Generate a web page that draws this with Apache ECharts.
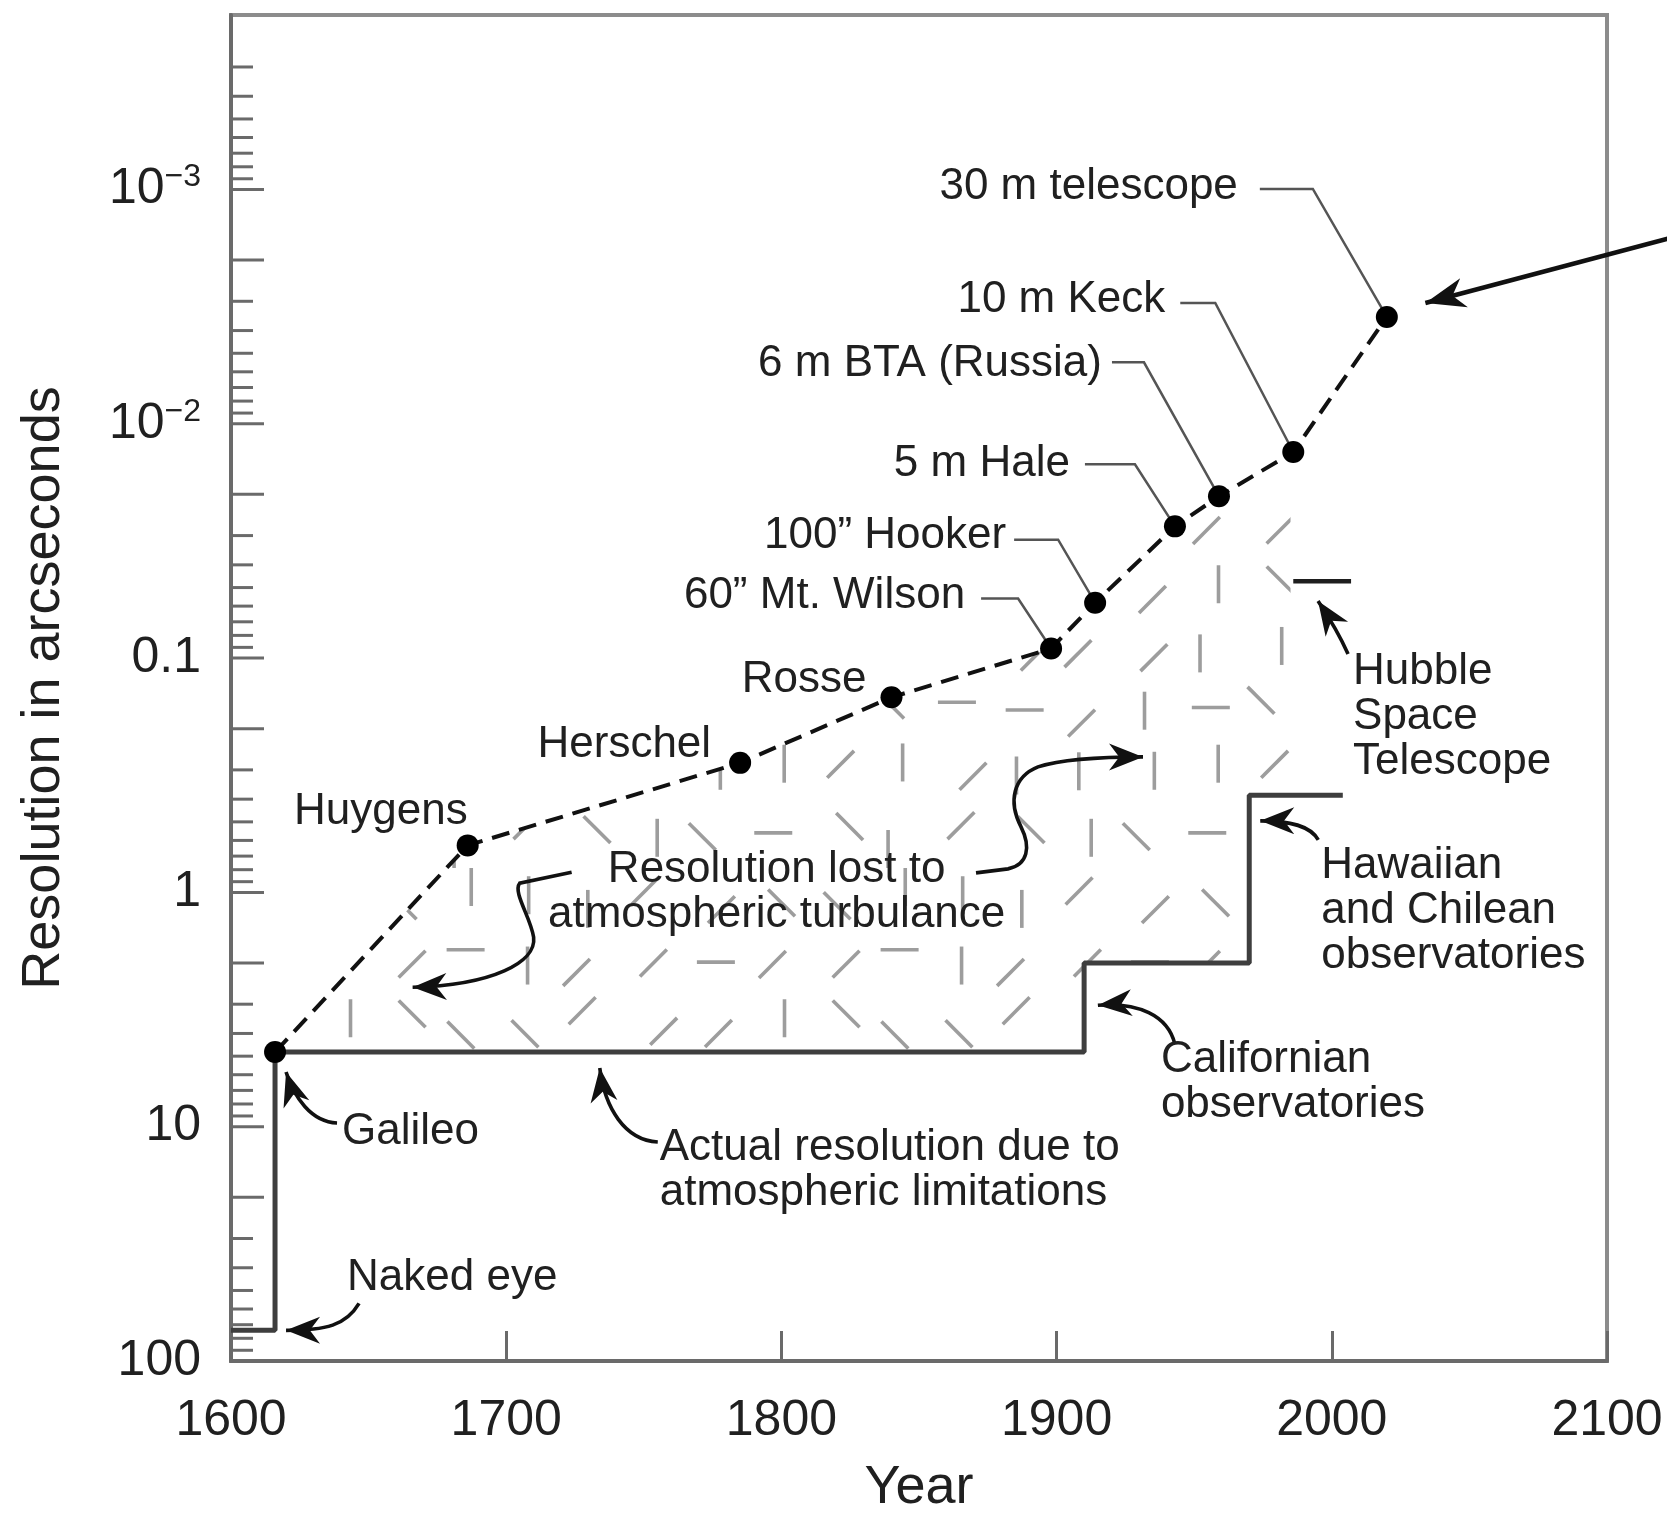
<!DOCTYPE html>
<html>
<head>
<meta charset="utf-8">
<title>Telescope resolution through history</title>
<script src="https://cdn.jsdelivr.net/npm/echarts@6.0.0/dist/echarts.min.js"></script>
<style>
  html, body { margin: 0; padding: 0; background: #ffffff; }
  #chart { width: 1667px; height: 1527px; }
</style>
</head>
<body>
<div id="chart"></div>
<script>
// ---- Data -------------------------------------------------------------
// Diffraction-limited resolution of landmark telescopes (arcseconds)
const telescopes = ['Galileo', 'Huygens', 'Herschel', 'Rosse', '60\u201D Mt. Wilson', '100\u201D Hooker',
                    '5 m Hale', '6 m BTA (Russia)', '10 m Keck', '30 m telescope'];
const telescopeYears = [1616, 1686, 1785, 1840, 1898, 1914, 1943, 1959, 1986, 2020];
const telescopeResolution = [4.8, 0.63, 0.28, 0.147, 0.091, 0.058, 0.0274, 0.0204, 0.0132, 0.0035];

// Seeing-limited resolution actually reached from the ground (drawn as steps)
const seeingYears = [1600, 1616, 1910, 1970, 2004];
const seeingResolution = [74, 4.8, 2.0, 0.385, 0.385];

// Hubble Space Telescope
const hubbleYears = [1986, 2007];
const hubbleResolution = [0.047, 0.047];

// Right edge of the shaded "lost to turbulence" region
const turbulenceEndYear = 1985;

// Axis ticks and labels
const yearTicks = [1600, 1700, 1800, 1900, 2000, 2100];
const resolutionDecades = [1e-3, 1e-2, 0.1, 1, 10, 100];
const resolutionDecadeLabels = ['10^-3', '10^-2', '0.1', '1', '10', '100'];
const minorTickMultipliers = [1, 2, 3, 4, 5, 6, 7, 8, 9];

// ---- Styling / layout ----------------------------------------------------
const FONT = '"Liberation Sans", Arial, Helvetica, sans-serif';
const TEXT = '#202020';
const AXIS = '#6a6a6a';
const yMin = 1.8e-4, yMax = 100;
const xMin = yearTicks[0], xMax = yearTicks[yearTicks.length - 1];

// Label placement around each telescope dot (pixel offsets from the dot)
const labelLayout = {
  'Huygens':            { text: [0, -34] },
  'Herschel':           { text: [-29, -18] },
  'Rosse':              { text: [-25, -17] },
  '60\u201D Mt. Wilson':{ text: [-86, -53],   elbow: [-33, -50],  lead: [-70, -50] },
  '100\u201D Hooker':   { text: [-89, -67],   elbow: [-37, -63],  lead: [-81, -63] },
  '5 m Hale':           { text: [-105, -62],  elbow: [-40, -62],  lead: [-90, -62] },
  '6 m BTA (Russia)':   { text: [-117, -132], elbow: [-75, -134], lead: [-107, -134] },
  '10 m Keck':          { text: [-128, -152], elbow: [-78, -149], lead: [-113, -149] },
  '30 m telescope':     { text: [-149, -130], elbow: [-74, -128], lead: [-127, -128] }
};

// Callouts: arrow tip in data space, curve and text as pixel offsets from the tip
const notes = [
  { tip: [1620, 5.84], path: 'M51 51 C25 50 8 25 0 0', label: 'Galileo', at: [56, 60], align: 'left' },
  { tip: [1620, 74], path: 'M73 -27 C60 -5 40 0 0 0', label: 'Naked eye', at: [61, -53], align: 'left' },
  { tip: [1734, 5.62], path: 'M58 74 C25 72 5 40 0 0', label: 'Actual resolution due to\natmospheric limitations', at: [60, 80], align: 'left' },
  { tip: [1915, 3.03], path: 'M77 39 C70 10 40 -3 0 0', label: 'Californian\nobservatories', at: [63, 55], align: 'left' },
  { tip: [1974, 0.495], path: 'M58 19 C50 5 30 0 0 0', label: 'Hawaiian\nand Chilean\nobservatories', at: [61, 45], align: 'left' },
  { tip: [1995, 0.057], path: 'M30 53 C22 35 10 15 0 0', label: 'Hubble\nSpace\nTelescope', at: [35, 71], align: 'left' },
  { tip: [1666, 2.54], path: 'M159 -115 L107 -104 C100 -95 118 -70 121 -50 C124 -25 80 -2 0 0',
    label: 'Resolution lost to\natmospheric turbulance', at: [364, -117], align: 'center' },
  { tip: [1931.4, 0.264], path: 'M-167 116 L-135 112 C-115 108 -112 90 -122 70 C-135 45 -130 20 -105 10 C-80 2 -40 0 0 0' },
  { tip: [2034, 0.00305], path: 'M260 -69 L0 0', width: 4.5, head: 40, headW: 15 }
];

// ---- Derived geometry ----------------------------------------------------
const telescopePoints = telescopeYears.map((y, i) => [y, telescopeResolution[i]]);
const seeingPoints = seeingYears.map((y, i) => [y, seeingResolution[i]]);
const hubblePoints = hubbleYears.map((y, i) => [y, hubbleResolution[i]]);

// Stepped outline of the seeing limit (horizontal first, then vertical)
function seeingStepOutline() {
  const pts = [];
  for (let i = 0; i < seeingPoints.length - 1; i++) {
    pts.push(seeingPoints[i], [seeingPoints[i + 1][0], seeingPoints[i][1]]);
  }
  pts.push(seeingPoints[seeingPoints.length - 1]);
  return pts;
}

// Region between the telescope track and the seeing limit
function turbulenceRegion() {
  const start = telescopeYears[0];
  const upper = telescopePoints.filter(p => p[0] < turbulenceEndYear);
  upper.push([turbulenceEndYear, upper[upper.length - 1][1]]);
  const lower = [];
  seeingStepOutline().forEach(p => {
    if (p[0] >= start && p[0] <= turbulenceEndYear) lower.push(p);
  });
  const last = lower[lower.length - 1];
  lower.push([turbulenceEndYear, last[1]]);
  const trimmed = lower.filter(p => !(p[0] === start && p[1] > telescopeResolution[0]));
  return upper.concat(trimmed.reverse());
}
const regionPoints = turbulenceRegion();

// Log-axis tick marks: decades and the 2x marks are drawn longer
const yTickMarks = [];
[1e-4, 1e-3, 1e-2, 0.1, 1, 10].forEach(d => {
  minorTickMultipliers.forEach(k => {
    const v = k * d;
    if (v >= yMin * 1.3 && v <= yMax * 1.0001) yTickMarks.push([v, k <= 2 ? 1 : 0]);
  });
});
yTickMarks.push([yMax, 1]);

// Scattered short strokes used as the fill texture of the turbulence region.
// Positions and orientations come from a fixed hash so the texture is stable.
function makeHatchTile() {
  const S = 62, N = 7, L = 38;
  const c = document.createElement('canvas');
  c.width = c.height = S * N;
  const g = c.getContext('2d');
  g.strokeStyle = '#9d9d9d';
  g.lineWidth = 3.6;
  g.lineCap = 'butt';
  const h = n => { const s = Math.sin(n * 12.9898 + 78.233) * 43758.5453; return s - Math.floor(s); };
  const angles = [Math.PI / 2, Math.PI / 2, Math.PI / 4, -Math.PI / 4, Math.PI / 4, -Math.PI / 4, 0];
  for (let r = 0; r < N; r++) {
    for (let q = 0; q < N; q++) {
      const i = r * N + q;
      const cx = q * S + S / 2 + (h(i + 1) - 0.5) * 26;
      const cy = r * S + S / 2 + (h(i + 101) - 0.5) * 26;
      const a = angles[Math.floor(h(i + 211) * angles.length)];
      const dx = Math.cos(a) * L / 2, dy = Math.sin(a) * L / 2;
      g.beginPath();
      g.moveTo(cx - dx, cy - dy);
      g.lineTo(cx + dx, cy + dy);
      g.stroke();
    }
  }
  return c;
}
const hatchTile = makeHatchTile();

// ---- Render helpers ------------------------------------------------------
function renderRegion(params, api) {
  return {
    type: 'polygon',
    shape: { points: regionPoints.map(p => api.coord(p)) },
    style: { fill: { image: hatchTile, repeat: 'repeat' }, stroke: null },
    silent: true
  };
}

function renderYTicks(params, api) {
  const p = api.coord([xMin, api.value(0)]);
  const len = api.value(1) ? 33 : 22;
  return {
    type: 'line',
    shape: { x1: p[0], y1: p[1], x2: p[0] + len, y2: p[1] },
    style: { stroke: AXIS, lineWidth: 3 },
    silent: true
  };
}

function renderTelescopeLabel(params, api) {
  const i = api.value(2);
  const name = telescopes[i];
  const lay = labelLayout[name];
  const p = api.coord([api.value(0), api.value(1)]);
  const children = [];
  if (lay.elbow) {
    children.push({
      type: 'polyline',
      shape: { points: [lay.lead, lay.elbow, [0, 0]] },
      style: { stroke: '#555555', lineWidth: 2.5, fill: null }
    });
  }
  children.push({
    type: 'text',
    x: lay.text[0], y: lay.text[1],
    style: { text: name, font: '44px ' + FONT, fill: TEXT, align: 'right', verticalAlign: 'middle' }
  });
  return { type: 'group', x: p[0], y: p[1], children: children, silent: true };
}

function renderNote(params, api) {
  const n = notes[params.dataIndex];
  const tip = api.coord(n.tip);
  const nums = n.path.match(/-?\d+(\.\d+)?/g).map(Number);
  const px = nums[nums.length - 4], py = nums[nums.length - 3];
  const d = Math.hypot(px, py);
  const ux = -px / d, uy = -py / d;           // unit vector pointing into the tip
  const L = n.head || 34, W = n.headW || 13.5;
  const nx = -uy, ny = ux;
  const head = [
    [0, 0],
    [-ux * L + nx * W, -uy * L + ny * W],
    [-ux * L * 0.7, -uy * L * 0.7],
    [-ux * L - nx * W, -uy * L - ny * W]
  ];
  const children = [
    { type: 'path', shape: { pathData: n.path }, style: { stroke: '#111111', lineWidth: n.width || 3.6, fill: null } },
    { type: 'polygon', shape: { points: head }, style: { fill: '#111111', stroke: null } }
  ];
  if (n.label) {
    const lh = 45;
    children.push({
      type: 'text',
      x: n.at[0], y: n.at[1] - lh / 2,
      style: { text: n.label, font: '44px ' + FONT, fill: TEXT, align: n.align,
               verticalAlign: 'top', lineHeight: lh }
    });
  }
  return { type: 'group', x: tip[0], y: tip[1], children: children, silent: true };
}

function yLabel(v) {
  const idx = resolutionDecades.findIndex(d => Math.abs(Math.log10(v) - Math.log10(d)) < 1e-6);
  if (idx < 0) return '';
  const t = resolutionDecadeLabels[idx];
  if (t.indexOf('^') >= 0) {
    const parts = t.split('^');
    return '{b|' + parts[0] + '}{s|' + parts[1].replace('-', '\u2212') + '}';
  }
  return '{b|' + t + '}';
}

// ---- Chart ---------------------------------------------------------------
const chart = echarts.init(document.getElementById('chart'), null, { renderer: 'canvas', width: 1667, height: 1527 });

chart.setOption({
  animation: false,
  backgroundColor: '#ffffff',
  grid: {
    left: 231, right: 60, top: 15, bottom: 166,
    show: true, borderColor: '#8c8c8c', borderWidth: 4,
    containLabel: false, outerBoundsMode: 'none'
  },
  xAxis: {
    type: 'value', min: xMin, max: xMax, interval: 100,
    axisLine: { show: true, lineStyle: { color: AXIS, width: 4 } },
    axisTick: { show: true, inside: true, length: 30, lineStyle: { color: AXIS, width: 3 } },
    axisLabel: { fontSize: 50, fontFamily: FONT, color: TEXT, margin: 35,
                 formatter: v => (yearTicks.indexOf(v) >= 0 ? String(v) : '') },
    splitLine: { show: false },
    name: 'Year', nameLocation: 'middle', nameGap: 100,
    nameTextStyle: { fontSize: 54, fontFamily: FONT, color: TEXT }
  },
  yAxis: {
    type: 'log', logBase: 10, min: yMin, max: yMax, inverse: true,
    axisLine: { show: true, lineStyle: { color: AXIS, width: 4 } },
    axisTick: { show: false },
    splitLine: { show: false },
    axisLabel: {
      margin: 30, formatter: yLabel,
      rich: {
        b: { fontSize: 50, fontFamily: FONT, color: TEXT, lineHeight: 56 },
        s: { fontSize: 32, fontFamily: FONT, color: TEXT, lineHeight: 22, verticalAlign: 'top' }
      }
    },
    name: 'Resolution in arcseconds', nameLocation: 'middle', nameRotate: 90, nameGap: 160,
    nameTextStyle: { fontSize: 54, fontFamily: FONT, color: TEXT }
  },
  series: [
    { type: 'custom', name: 'turbulence', renderItem: renderRegion, data: [[telescopeYears[0], telescopeResolution[0]]],
      clip: false, z: 1, silent: true },
    { type: 'custom', name: 'yTicks', renderItem: renderYTicks, data: yTickMarks, encode: { y: 0 },
      clip: false, z: 3, silent: true },
    { type: 'line', name: 'seeing', step: 'end', data: seeingPoints, symbol: 'none',
      lineStyle: { color: '#3e3e3e', width: 5 }, z: 3, silent: true },
    { type: 'line', name: 'Hubble', data: hubblePoints, symbol: 'none',
      lineStyle: { color: '#1e1e1e', width: 4.5 }, z: 3, silent: true },
    { type: 'custom', name: 'labels', renderItem: renderTelescopeLabel,
      data: telescopes.map((t, i) => [telescopeYears[i], telescopeResolution[i], i]).filter(d => labelLayout[telescopes[d[2]]]),
      clip: false, z: 4, silent: true },
    { type: 'line', name: 'telescopes', data: telescopePoints, symbol: 'circle', symbolSize: 22,
      lineStyle: { color: '#111111', width: 4, type: [18, 10] },
      itemStyle: { color: '#000000', borderWidth: 0 }, z: 5, silent: true },
    { type: 'custom', name: 'notes', renderItem: renderNote, data: notes.map(n => n.tip),
      clip: false, z: 6, silent: true }
  ]
});
</script>
</body>
</html>
